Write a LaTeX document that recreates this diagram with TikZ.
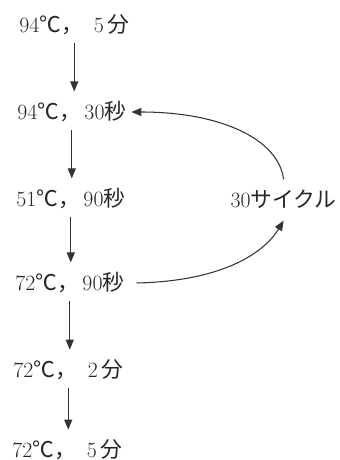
\documentclass[tikz,border=0pt]{standalone}
\usepackage{fontspec}
\newfontfamily\jp{Noto Sans CJK JP}
\newcommand{\jt}[1]{{\jp #1}}
\usetikzlibrary{arrows.meta,positioning,calc}

\begin{document}
\begin{tikzpicture}[
  font=\fontsize{15.5pt}{18pt}\selectfont,
  >={Triangle[length=0.25cm,width=0.2cm]},
  stepnode/.style={anchor=west,inner sep=0pt,text=black!85},
  flow/.style={->,line width=0.75pt,draw=black!80,shorten <=0.18cm,shorten >=0.25cm},
  loop/.style={->,line width=0.75pt,draw=black!80}
]
  \useasboundingbox (0,0) rectangle (8.475,-11.5);

  \node[stepnode] (s1) at (0.475,-0.625) {94\jt{℃，}\enspace 5\,\jt{分}};
  \node[stepnode] (s2) at (0.425,-2.8) {94\jt{℃，}\,30\jt{秒}};
  \node[stepnode] (s3) at (0.4,-4.975) {51\jt{℃，}\,90\jt{秒}};
  \node[stepnode] (s4) at (0.375,-7.075) {72\jt{℃，}\,90\jt{秒}};
  \node[stepnode] (s5) at (0.325,-9.25) {72\jt{℃，}\enspace 2\,\jt{分}};
  \node[stepnode] (s6) at (0.3,-11.25) {72\jt{℃，}\enspace 5\,\jt{分}};
  \node[stepnode,anchor=center] (cyc) at (7.09,-4.975) {30\jt{サイクル}};

  \draw[flow] (s1.south) -- (s1.south |- s2.north);
  \draw[flow] (s2.south) -- (s2.south |- s3.north);
  \draw[flow] (s3.south) -- (s3.south |- s4.north);
  \draw[flow] (s4.south) -- (s4.south |- s5.north);
  \draw[flow] (s5.south) -- (s5.south |- s6.north);

  \draw[loop] ([xshift=0.3cm]s4.east) .. controls +(2.25,0.05) and +(-0.45,-0.75) .. ([yshift=-0.3cm]cyc.south);
  \draw[loop] ([yshift=0.25cm]cyc.north) .. controls +(-0.125,1.0) and +(2.25,0) .. ([xshift=0.12cm]s2.east);
\end{tikzpicture}
\end{document}
